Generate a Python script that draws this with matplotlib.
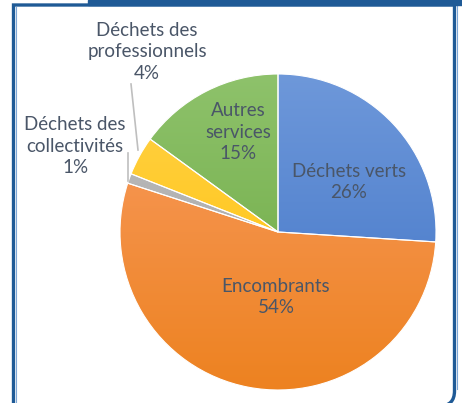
import numpy as np
import matplotlib
matplotlib.use("Agg")
import matplotlib.pyplot as plt
from matplotlib.patches import Rectangle, PathPatch
from matplotlib.path import Path
from matplotlib.colors import LinearSegmentedColormap

labels = ["Déchets verts", "Encombrants", "Déchets des\ncollectivités",
          "Déchets des\nprofessionnels", "Autres\nservices"]
values = [26, 54, 1, 4, 15]
pct_labels = ["26%", "54%", "1%", "4%", "15%"]
top_colors = ["#6E98DA", "#F99C63", "#C0C0C0", "#FFD24A", "#8EC26B"]
bot_colors = ["#3F73C6", "#ED8220", "#A0A0A0", "#FFC000", "#6AA73F"]

W, H = 462, 403
fig = plt.figure(figsize=(W / 100, H / 100), dpi=100)
ax = fig.add_axes([0, 0, 1, 1])

cx, cy, r = 278, H - 232, 158
wedges, _ = ax.pie(values, startangle=90, counterclock=False,
                   center=(cx, cy), radius=r,
                   wedgeprops=dict(edgecolor="white", linewidth=0.8))
ax.set_xlim(0, W)
ax.set_ylim(0, H)
ax.set_aspect("equal")
ax.axis("off")

grad = np.linspace(0, 1, 256).reshape(-1, 1)
for w, c1, c2 in zip(wedges, top_colors, bot_colors):
    w.set_facecolor("none")
    cmap = LinearSegmentedColormap.from_list("g", [c1, c2])
    im = ax.imshow(grad, cmap=cmap, aspect="auto",
                   extent=(cx - r, cx + r, cy - r, cy + r), origin="upper",
                   zorder=w.get_zorder() - 0.1)
    im.set_clip_path(w)

txt = dict(color="#4A5668", fontsize=13.5, family=["Lato", "DejaVu Sans"],
           ha="center", va="center", linespacing=1.32)
ax.text(349, H - 182, labels[0] + "\n" + pct_labels[0], **txt)
ax.text(276, H - 297, labels[1] + "\n" + pct_labels[1], **txt)
ax.text(75, H - 146, labels[2] + "\n" + pct_labels[2], **txt)
ax.text(147, H - 52, labels[3] + "\n" + pct_labels[3], **txt)
ax.text(238, H - 132, labels[4] + "\n" + pct_labels[4], **txt)

# leader lines
ax.plot([131, 138], [H - 84, H - 150], color="#BFBFBF", lw=1.2)
ax.plot([128, 128], [H - 153, H - 181], color="#BFBFBF", lw=1.2)

# frame
blue = "#1F5A96"
fig.patches.append(Rectangle((88 / W, 1 - 5 / H), 1, 5 / H,
                             transform=fig.transFigure, color=blue))
xl, xr, yt, yb, rc = 13.5, 454.5, H - 5, -3.0, 15
verts = [(xl, -5), (xl, yt), (xr, yt), (xr, yb + rc),
         (xr, yb), (xr - rc, yb), (xl, yb)]
codes = [Path.MOVETO, Path.LINETO, Path.LINETO, Path.LINETO,
         Path.CURVE3, Path.CURVE3, Path.LINETO]
ax.add_patch(PathPatch(Path(verts, codes), fill=False, edgecolor=blue,
                       linewidth=2.4, clip_on=False, capstyle="butt",
                       joinstyle="miter"))
ax.plot([15.8, 15.8], [0, H - 7], color="#7FA7D6", lw=0.8)
ax.plot([456.8, 456.8], [14, H - 5], color="#7FA7D6", lw=0.8)

fig.savefig("out.png", dpi=100)
